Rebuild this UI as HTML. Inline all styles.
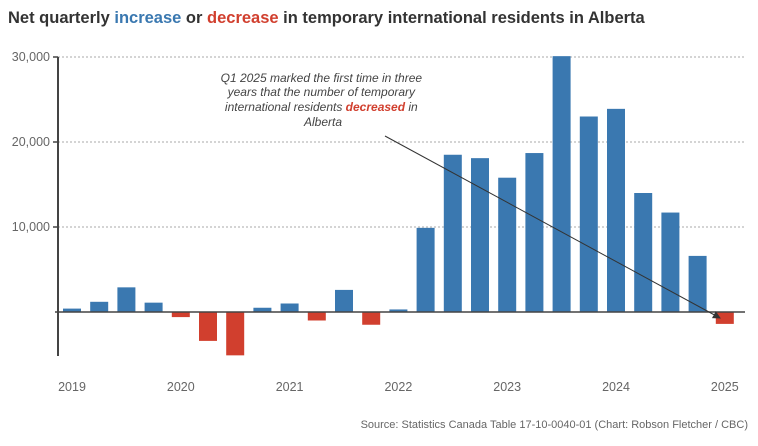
<!DOCTYPE html>
<html><head><meta charset="utf-8"><style>
body{margin:0;background:#fff;width:758px;height:441px;overflow:hidden;font-family:"Liberation Sans",sans-serif}
</style></head><body>
<svg width="758" height="441" xmlns="http://www.w3.org/2000/svg">
<text x="8" y="23" font-size="16.5" font-weight="bold" fill="#333">Net quarterly <tspan fill="#3a78b0">increase</tspan> or <tspan fill="#d13f2e">decrease</tspan> in temporary international residents in Alberta</text>
<g id="grid"></g>
<g id="bars"></g>
<g id="xlabels"></g>
<line x1="58" y1="57" x2="58" y2="356" stroke="#444" stroke-width="2"/>
<line x1="55" y1="312" x2="745" y2="312" stroke="#444" stroke-width="1.5"/>
<text text-anchor="middle" font-size="12" font-style="italic" fill="#444">
<tspan x="323" y="82">Q1 2025 marked the first time in three</tspan>
<tspan x="323" y="96">years that the number of temporary</tspan>
<tspan x="323" y="111">international residents <tspan fill="#d13f2e" font-weight="bold">decreased</tspan> in</tspan>
<tspan x="323" y="126">Alberta</tspan></text>
<defs><marker id="ah" markerWidth="8" markerHeight="8" refX="7" refY="4" orient="auto"><path d="M0,0 L8,4 L0,8 z" fill="#333"/></marker></defs>
<line x1="385" y1="136" x2="720" y2="318" stroke="#333" stroke-width="1" marker-end="url(#ah)"/>
<text x="748" y="428" text-anchor="end" font-size="11" fill="#666">Source: Statistics Canada Table 17-10-0040-01 (Chart: Robson Fletcher / CBC)</text>
</svg>
<script>
const values=[400,1200,2900,1100,-600,-3400,-5100,500,1000,-1000,2600,-1500,300,9900,18500,18100,15800,18700,30100,23000,23900,14000,11700,6600,-1400];
const yTicks=[10000,20000,30000];
const yTickLabels=["10,000","20,000","30,000"];
const years=["2019","2020","2021","2022","2023","2024","2025"];
const NS="http://www.w3.org/2000/svg";
const y=v=>312-v*255/30000;
const x=i=>72+i*27.2;
function mk(t,a,p){const e=document.createElementNS(NS,t);for(const k in a)e.setAttribute(k,a[k]);p.appendChild(e);return e;}
const grid=document.getElementById('grid');
yTicks.forEach((t,i)=>{
 const l=mk('line',{x1:58,x2:745,y1:y(t),y2:y(t),stroke:'#aaa','stroke-dasharray':'2,2'},grid);
 
 
 const tk=mk('line',{x1:53,x2:58,y1:y(t),y2:y(t),stroke:'#444','stroke-width':1.5},grid);
 
 
 const tx=mk('text',{x:50,y:y(t)+4,'text-anchor':'end','font-size':12.5,fill:'#666'},grid);
 tx.textContent=yTickLabels[i];
 
 
});
const bars=document.getElementById('bars');
values.forEach((v,i)=>{
 const r=mk('rect',{x:x(i)-9,width:18,y:Math.min(y(v),y(0)),height:Math.abs(y(v)-y(0)),fill:v>=0?'#3a78b0':'#d13f2e'},bars);
 
 
});
const xl=document.getElementById('xlabels');
years.forEach((yr,i)=>{
 const t=mk('text',{x:x(i*4),y:391,'text-anchor':'middle','font-size':12.5,fill:'#666'},xl);
 t.textContent=yr;
 
 
});
</script>
</body></html>
